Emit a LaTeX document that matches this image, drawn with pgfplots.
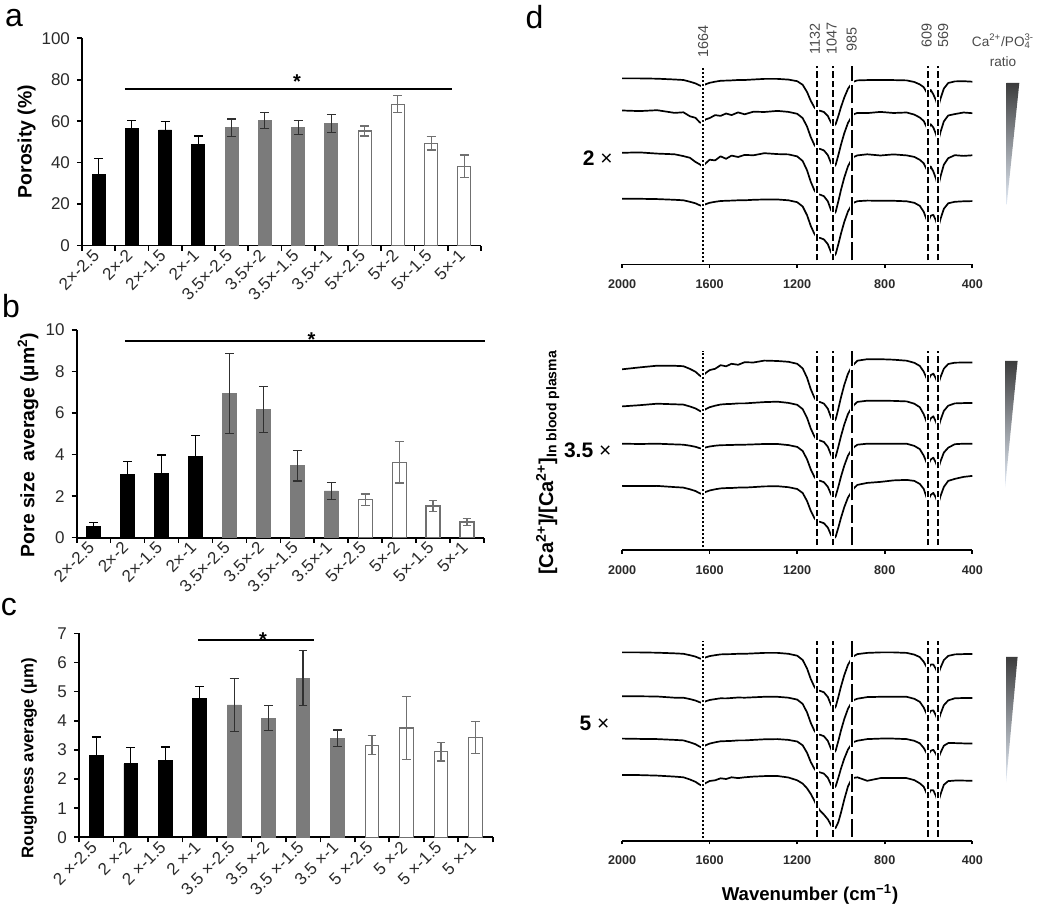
\documentclass[border=0pt]{standalone}
\usepackage{pgfplots}
\pgfplotsset{compat=1.18}
\usepackage{pgfplotstable}
\usepackage{fontspec}
\setmainfont{Liberation Sans}

\definecolor{bargray}{HTML}{7B7B7B}
\definecolor{errdark}{HTML}{303030}
\definecolor{whiteedge}{HTML}{707070}
\definecolor{tickgray}{HTML}{2A2A2A}
\definecolor{lblgray}{HTML}{4A4A4A}
\definecolor{tritop}{HTML}{3C3C3C}
\definecolor{trimid}{HTML}{8E939C}
\definecolor{tribot}{HTML}{E4ECF7}

% ---------------- bar data (x y err) ----------------
\pgfplotstableread{
x y e
0 34.5 7.7
1 56.6 3.9
2 55.8 4.2
3 48.9 4.0
}\poroK
\pgfplotstableread{
x y e
4 56.9 4.2
5 60.3 4.0
6 57.0 3.5
7 59.0 4.3
}\poroG
\pgfplotstableread{
x y e
8 55.3 2.4
9 68.2 4.1
10 49.4 3.3
11 38.3 5.4
}\poroW
\pgfplotstableread{
x y e
0 0.53 0.21
1 3.05 0.61
2 3.10 0.88
3 3.90 1.03
}\poreK
\pgfplotstableread{
x y e
4 6.95 1.93
5 6.18 1.10
6 3.47 0.74
7 2.25 0.40
}\poreG
\pgfplotstableread{
x y e
8 1.82 0.28
9 3.63 1.00
10 1.53 0.25
11 0.76 0.16
}\poreW
\pgfplotstableread{
x y e
0 2.80 0.64
1 2.52 0.55
2 2.63 0.47
3 4.75 0.43
}\rouK
\pgfplotstableread{
x y e
4 4.54 0.90
5 4.09 0.42
6 5.46 0.94
7 3.40 0.28
}\rouG
\pgfplotstableread{
x y e
8 3.16 0.32
9 3.75 1.07
10 2.94 0.32
11 3.42 0.54
}\rouW

% ---------------- FTIR spectra: depth below each trace's baseline ----------------
\pgfplotstableread{
w a b c d
2000 0 0 0 0
1920 0 0.6 -0.4 0
1840 0.3 -0.3 0.8 0.3
1760 1.1 2.4 1.5 1
1720 1.6 1.8 3.3 1.5
1690 3.3 5.8 5.0 3
1665 5 7.3 9.1 4.5
1645 7.1 11.9 11.6 6.5
1633 8 12.7 13.7 7.3
1620 6 9.0 10.9 5.5
1600 4.4 7.6 6.9 4
1575 3.3 4.6 7.6 3
1550 2.4 5.4 3.5 2.2
1525 2.2 3.0 6.0 2
1500 2 4.6 2.8 1.8
1470 1.6 1.9 4.2 1.5
1440 1.6 3.8 2.1 1.5
1400 1.1 1.2 2.5 1
1350 0.5 1.5 0.4 0.7
1290 0.5 0.4 1.3 0.7
1240 1.2 1.4 1.6 1.5
1200 2.8 3.3 3.6 3.4
1175 6.4 7.6 8.2 7.7
1155 13.6 16.1 17.5 16.4
1138 22.4 26.6 29 27.1
1122 28.8 34.2 37.2 34.8
1110 32 38 41.4 38.7
1095 32.4 38.5 41.9 39.2
1078 33.6 39.9 43.4 40.6
1060 37.6 44.6 48.5 45.4
1046 44 52.3 56.9 53.2
1034 48 57 62 58
1024 45.6 54.2 58.9 55.1
1012 37.6 44.6 48.5 45.4
1000 28.8 34.2 37.2 34.8
985 19.2 22.8 24.8 23.2
968 10.4 12.4 13.5 12.6
955 6.4 7.6 8.2 7.7
950 6 7.1 7.8 7.3
942 3.2 3.8 4.2 3.9
925 2 2.4 2.6 2.4
880 1.7 2.6 1.5 1.8
820 1.7 1.4 2.7 2
760 1.7 2.5 1.6 2
700 2 2.0 2.6 2.5
665 3.6 4.1 4.1 4
640 6 7 7 7
622 8.8 10.5 10.5 13
603 16 19 19 24
590 11.5 13.7 13.7 17
578 16 17 18.7 16
566 22 23.6 25.8 22
556 29 31 34 29
545 20 21.4 23.5 20
530 10.2 10.9 11.9 10
510 4.6 5 5.4 4.5
480 3 3.6 2.4 3
440 2.8 2.0 3.1 2.5
400 3.3 2.7 2.5 2.3
}\specA

\pgfplotstableread{
w a b c d
2000 9.1 5 0 0
1920 7.2 3.8 0.3 0.2
1840 5.5 2.3 0 0
1760 5.6 2.9 0.7 1.2
1720 6 3.2 1 1.7
1690 8.7 5.1 2 3.4
1665 11.5 7 3.1 5.1
1645 15.4 9.5 4.5 7.4
1633 16.9 10.5 5 8.3
1620 13.1 7.9 3.8 6.2
1600 9.9 5.8 2.8 4.6
1575 8.6 4.3 2 3.4
1550 5.0 3.1 1.5 2.5
1525 6.1 2.7 1.4 2.2
1500 3.6 2.5 1.3 2.1
1470 4.6 2 1 1.7
1440 2.0 2 1 1.7
1400 2.3 1.4 0.7 1.2
1350 0.4 0.7 0.3 0.5
1290 0.8 0.3 0.3 0.3
1240 1.6 1.5 1.4 1.3
1200 3.6 3.4 3.2 3.1
1175 8.2 7.7 7.3 7.1
1155 17.5 16.4 15.6 15.1
1138 29 27.1 25.7 24.9
1122 37.2 34.8 33 32
1110 41.4 38.7 36.7 35.6
1095 41.9 39.2 37.1 36
1078 43.4 40.6 38.5 37.3
1060 48.5 45.4 43.1 41.7
1046 56.9 53.2 50.4 48.9
1034 62 58 55 53.3
1024 58.9 55.1 52.3 50.6
1012 48.5 45.4 43.1 41.7
1000 37.2 34.8 33 32
985 24.8 23.2 22 21.3
968 13.5 12.6 11.9 11.6
955 8.2 7.7 7.3 7.1
950 7.8 7.3 6.9 6.7
942 4.2 3.9 3.7 2.5
925 0.5 0.5 1 -1
880 -1 -0.7 0 -3
820 -1 -0.7 0 -4
760 -0.5 -0.5 0 -5.5
700 0.5 0 0 -6
665 2.6 2.3 2.2 -5
640 5.7 5.8 5.4 -2
622 11.4 12.8 11.9 3
603 21 23.7 22 15.2
590 15 17 15.8 9
578 13.4 14.9 14 7
566 18.5 20.5 19.3 12
556 24.3 27 25.4 18.6
545 16.8 18.6 17.5 10
530 8.5 9.5 8.9 1
510 3.8 4.3 4 -5
480 2.5 2 0.5 -7
440 2.3 1.7 0 -9
400 2.3 1.7 0 -10
}\specB

\pgfplotstableread{
w a b c d
2000 0 0 0 0
1920 0 0 0.3 0
1840 0.3 0.2 0.5 0.5
1760 0.95 1.4 1.3 1.5
1720 1.4 1.4 1.8 2.2
1690 2.8 2.8 3.7 4.4
1665 4.2 4.2 5.6 6.7
1645 6 6 8.1 9.6
1633 6.8 6.8 9.1 10.8
1620 5.1 5.1 6.8 8.1
1600 3.7 3.7 5 5.9
1575 2.8 2.8 3.7 5.2
1550 2 2 2.7 3.2
1525 1.8 2.1 2.5 3.9
1500 1.7 1.7 2.3 2.2
1470 1.4 1.2 1.8 3.0
1440 1.4 1.4 1.8 2.2
1400 1 1 1.3 1.5
1350 0.5 0.5 0.7 1
1290 0.5 0.5 0.5 0.9
1240 1.4 1.4 1.3 2.4
1200 3.3 3.3 2.9 5.2
1175 7.6 7.6 6.7 8.5
1155 16.1 16.1 14.2 13.2
1138 26.6 26.6 23.4 18.8
1122 34.2 34.2 30 25.4
1110 38 38 33.4 31
1095 38.5 38.5 33.8 35.7
1078 39.9 39.9 35 39.5
1060 44.6 44.6 39.2 44.2
1046 52.3 52.3 45.9 49.8
1034 57 57 50 54
1024 54.2 54.2 47.5 52.6
1012 44.6 44.6 39.2 47
1000 34.2 34.2 30 37.6
985 22.8 22.8 20 24.4
968 12.4 12.4 10.9 11.3
955 7.6 7.6 6.7 5.6
950 7.1 7.1 6.3 4.7
942 3.8 3.8 3.4 2.8
925 1.7 2.4 2.1 2.2
880 0.5 0.8 0.5 5.7
820 0 0.5 0 3
760 0 0.5 0 3
700 0.5 0.5 0.5 3
665 2.2 2.5 2.2 5
640 4.7 5.5 4.7 8.2
622 9.3 11.2 9.3 11.6
603 16.9 20.3 16.9 21
590 12.2 14.6 12.2 15.1
578 12.1 14 11.2 15.2
566 16.7 19.3 15.4 21
556 22 25.4 20.3 27.7
545 15.2 17.5 14 19.1
530 7.7 8.9 7.1 9.7
510 3.5 4.1 4.5 6
480 2 2 4.5 5.5
440 1.7 1.7 4.8 5.5
400 1.7 1.7 5 5.7
}\specC

\pgfplotsset{
  barax/.style={
    scale only axis, clip=false,
    axis x line*=bottom, axis y line*=left,
    axis line style={line width=0.9pt},
    xmin=-0.5, xmax=11.5, ymin=0,
    xtick={0,...,11}, minor xtick={-0.5,0.5,...,11.5},
    every major x tick/.append style={draw=none},
    tick align=outside, major tick length=2.5pt, minor tick length=2.5pt,
    tick style={line width=0.8pt, black},
    minor tick style={line width=0.8pt, black},
    tick label style={font=\fontsize{8.5}{10}\selectfont, text=tickgray},
    xticklabel style={rotate=45, anchor=east, inner sep=1.5pt},
    /pgf/number format/assume math mode=true,
    ybar, bar shift=0pt,
  },
  bk/.style={fill=black, draw=black,
    error bars/y dir=both, error bars/y explicit,
    error bars/error bar style={black, line width=0.6pt},
    error bars/error mark options={rotate=90, black, mark size=2.2pt, line width=0.6pt}},
  gr/.style={fill=bargray, draw=bargray,
    error bars/y dir=both, error bars/y explicit,
    error bars/error bar style={errdark, line width=0.6pt},
    error bars/error mark options={rotate=90, errdark, mark size=2.2pt, line width=0.6pt}},
  wh/.style={fill=white, draw=whiteedge, line width=0.6pt,
    error bars/y dir=both, error bars/y explicit,
    error bars/error bar style={whiteedge, line width=0.6pt},
    error bars/error mark options={rotate=90, whiteedge, mark size=2.2pt, line width=0.6pt}},
  specax/.style={
    scale only axis, clip=false, width=175.1pt, height=100pt,
    xmin=400, xmax=2000, x dir=reverse, ymin=0, ymax=200,
    axis x line*=bottom, axis y line=none, ytick=\empty,
    axis line style={line width=0.85pt},
    xtick={400,800,1200,1600,2000},
    tick align=outside, major tick length=1.8pt,
    tick style={line width=0.8pt, black},
    xticklabel style={font=\bfseries\fontsize{6.3}{7}\selectfont, text=tickgray, yshift=-2.2pt},
    /pgf/number format/assume math mode=true,
    /pgf/number format/1000 sep={},
  },
  spec/.style={black, line width=0.85pt, line join=round, mark=none},
}
\tikzset{
  dotl/.style={black, line width=1.1pt, dash pattern=on 0.9pt off 1.1pt},
  dashl/.style={black, line width=1.1pt, dash pattern=on 3.3pt off 1.5pt},
  longl/.style={black, line width=1.1pt, dash pattern=on 9pt off 2.2pt},
}

\newcommand{\vl}[4]{%
  \draw[white, line width=1.9pt] (axis cs:#1,#2) -- (axis cs:#1,#3);%
  \draw[#4] (axis cs:#1,#2) -- (axis cs:#1,#3);}

\begin{document}
\begin{tikzpicture}
\useasboundingbox (0,0) rectangle (525pt,452.5pt);

% ---------------- panel a ----------------
\begin{axis}[barax, at={(41pt,329.7pt)}, anchor=south west,
  width=199.5pt, height=103.65pt, ymax=100, ytick={0,20,...,100}, bar width=6.5pt,
  xticklabels={2×-2.5,2×-2,2×-1.5,2×-1,3.5×-2.5,3.5×-2,3.5×-1.5,3.5×-1,5×-2.5,5×-2,5×-1.5,5×-1}]
\addplot[bk] table[x=x, y=y, y error=e] {\poroK};
\addplot[gr] table[x=x, y=y, y error=e] {\poroG};
\addplot[wh] table[x=x, y=y, y error=e] {\poroW};
\draw[line width=1pt] (axis cs:0.79,75.6) -- (axis cs:10.63,75.6);
\node[anchor=base, inner sep=0pt, font=\bfseries\fontsize{10}{10}\selectfont] at (axis cs:5.97,75.6) {*};
\end{axis}

% ---------------- panel b ----------------
\begin{axis}[barax, at={(38.35pt,183.65pt)}, anchor=south west,
  width=203.65pt, height=103.85pt, ymax=10, ytick={0,2,...,10}, bar width=7pt,
  xticklabels={2×-2.5,2×-2,2×-1.5,2×-1,3.5×-2.5,3.5×-2,3.5×-1.5,3.5×-1,5×-2.5,5×-2,5×-1.5,5×-1}]
\addplot[bk] table[x=x, y=y, y error=e] {\poreK};
\addplot[gr] table[x=x, y=y, y error=e] {\poreG};
\addplot[wh] table[x=x, y=y, y error=e] {\poreW};
\draw[line width=1pt] (axis cs:0.92,9.49) -- (axis cs:11.53,9.49);
\node[anchor=base, inner sep=0pt, font=\bfseries\fontsize{10}{10}\selectfont] at (axis cs:6.42,9.2) {*};
\end{axis}

% ---------------- panel c ----------------
\begin{axis}[barax, at={(39.5pt,33.85pt)}, anchor=south west,
  width=206.85pt, height=102pt, ymax=7, ytick={0,1,...,7}, bar width=6.8pt,
  xticklabels={2 ×-2.5,2 ×-2,2 ×-1.5,2 ×-1,3.5 ×-2.5,3.5 ×-2,3.5 ×-1.5,3.5 ×-1,5 ×-2.5,5 ×-2,5 ×-1.5,5 ×-1}]
\addplot[bk] table[x=x, y=y, y error=e] {\rouK};
\addplot[gr] table[x=x, y=y, y error=e] {\rouG};
\addplot[wh] table[x=x, y=y, y error=e] {\rouW};
\draw[line width=1pt] (axis cs:2.96,6.77) -- (axis cs:6.32,6.77);
\node[anchor=base, inner sep=0pt, font=\bfseries\fontsize{10}{10}\selectfont] at (axis cs:4.84,6.56) {*};
\end{axis}

% ---------------- panel d, 2x ----------------
\begin{axis}[specax, at={(311.05pt,320.3pt)}, anchor=south west]
\addplot[spec] table[x=w, y expr=186-\thisrow{a}] {\specA};
\addplot[spec] table[x=w, y expr=153.9-\thisrow{b}] {\specA};
\addplot[spec] table[x=w, y expr=111.6-\thisrow{c}] {\specA};
\addplot[spec] table[x=w, y expr=65.6-\thisrow{d}] {\specA};
\vl{1632}{2.4}{196.8}{dotl}
\vl{1111}{4.1}{198.5}{dashl}
\vl{1035}{4.1}{198.5}{dashl}
\vl{951}{4.1}{198.5}{longl}
\vl{602}{4.1}{198.5}{dashl}
\vl{556}{4.1}{198.5}{dashl}
\node[rotate=90, anchor=west, inner sep=0pt, font=\fontsize{7.2}{8}\selectfont, text=lblgray] at (axis cs:1630,206.4) {1664};
\node[rotate=90, anchor=west, inner sep=0pt, font=\fontsize{7.2}{8}\selectfont, text=lblgray] at (axis cs:1119,209.4) {1132};
\node[rotate=90, anchor=west, inner sep=0pt, font=\fontsize{7.2}{8}\selectfont, text=lblgray] at (axis cs:1042,209.4) {1047};
\node[rotate=90, anchor=west, inner sep=0pt, font=\fontsize{7.2}{8}\selectfont, text=lblgray] at (axis cs:951,212.4) {985};
\node[rotate=90, anchor=west, inner sep=0pt, font=\fontsize{7.2}{8}\selectfont, text=lblgray] at (axis cs:608,216.4) {609};
\node[rotate=90, anchor=west, inner sep=0pt, font=\fontsize{7.2}{8}\selectfont, text=lblgray] at (axis cs:533,216.4) {569};
\end{axis}

% ---------------- panel d, 3.5x ----------------
\begin{axis}[specax, at={(311.05pt,177.4pt)}, anchor=south west]
\addplot[spec] table[x=w, y expr=190-\thisrow{a}] {\specB};
\addplot[spec] table[x=w, y expr=148.8-\thisrow{b}] {\specB};
\addplot[spec] table[x=w, y expr=106.5-\thisrow{c}] {\specB};
\addplot[spec] table[x=w, y expr=64.3-\thisrow{d}] {\specB};
\vl{1632}{3}{199.5}{dotl}
\vl{1111}{5}{199.5}{dashl}
\vl{1035}{5}{199.5}{dashl}
\vl{951}{5}{199.5}{longl}
\vl{602}{5}{199.5}{dashl}
\vl{556}{5}{199.5}{dashl}
\end{axis}

% ---------------- panel d, 5x ----------------
\begin{axis}[specax, at={(311.05pt,32.15pt)}, anchor=south west]
\addplot[spec] table[x=w, y expr=188.3-\thisrow{a}] {\specC};
\addplot[spec] table[x=w, y expr=144.4-\thisrow{b}] {\specC};
\addplot[spec] table[x=w, y expr=102.1-\thisrow{c}] {\specC};
\addplot[spec] table[x=w, y expr=65.6-\thisrow{d}] {\specC};
\vl{1632}{3}{200}{dotl}
\vl{1111}{4}{200}{dashl}
\vl{1035}{4}{200}{dashl}
\vl{951}{4}{200}{longl}
\vl{602}{4}{200}{dashl}
\vl{556}{4}{200}{dashl}
\end{axis}

% ---------------- labels ----------------
\node[font=\fontsize{16}{16}\selectfont] at (7pt,443.25pt) {a};
\node[font=\fontsize{16}{16}\selectfont] at (5.5pt,299.5pt) {b};
\node[font=\fontsize{16}{16}\selectfont] at (4.5pt,149pt) {c};
\node[font=\fontsize{16}{16}\selectfont] at (267.2pt,444pt) {d};

\node[rotate=90, font=\bfseries\fontsize{9.7}{10}\selectfont] at (13.35pt,381.65pt) {Porosity (\%)};
\node[rotate=90, font=\bfseries\fontsize{9.7}{10}\selectfont] at (14pt,230pt) {Pore size~~average (µm\textsuperscript{2})};
\node[rotate=90, font=\bfseries\fontsize{8.4}{10}\selectfont] at (14.5pt,73.35pt) {Roughness average (µm)};

\node[font=\fontsize{10.5}{11}\selectfont] at (298.9pt,373.4pt) {\textbf{2} ×};
\node[font=\fontsize{10.5}{11}\selectfont] at (293.85pt,227.3pt) {\textbf{3.5} ×};
\node[font=\fontsize{10.5}{11}\selectfont] at (297.2pt,90.8pt) {\textbf{5} ×};

\node[rotate=90, font=\bfseries\fontsize{10}{12}\selectfont] at (273.8pt,221.25pt) {[Ca\textsuperscript{2+}]/[Ca\textsuperscript{2+}]\textsubscript{In blood plasma}};
\node[font=\bfseries\fontsize{9.3}{10}\selectfont] at (405pt,5.3pt) {Wavenumber (cm\textsuperscript{−1})};

\node[align=center, font=\fontsize{6.8}{10}\selectfont, text=lblgray, inner sep=0pt] at (501.5pt,427.5pt) {Ca\textsuperscript{2+}/PO\rlap{\textsubscript{4}}\textsuperscript{3-}\\ratio};

\shade[top color=tritop, middle color=trimid, bottom color=tribot] (503.35pt,411pt) -- (509.65pt,411pt) -- (503.35pt,350pt) -- cycle;
\shade[top color=tritop, middle color=trimid, bottom color=tribot] (502.55pt,272.05pt) -- (508.8pt,272.05pt) -- (502.55pt,208.7pt) -- cycle;
\shade[top color=tritop, middle color=trimid, bottom color=tribot] (503.05pt,124.1pt) -- (508.8pt,124.1pt) -- (503.05pt,61.2pt) -- cycle;
\end{tikzpicture}
\end{document}
